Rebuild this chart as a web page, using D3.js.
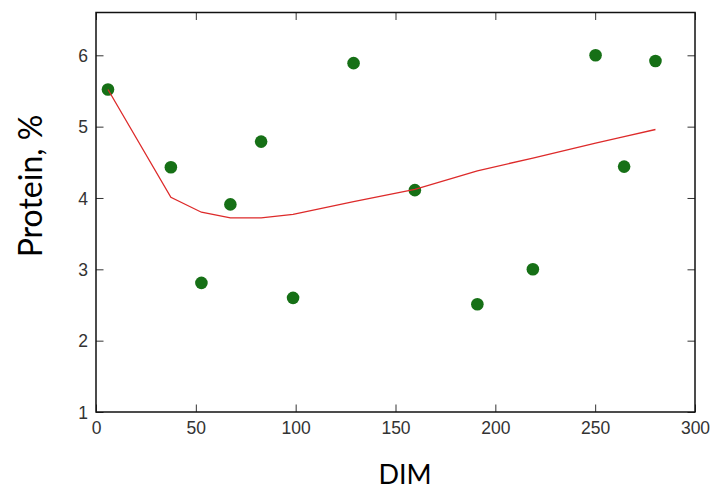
<!DOCTYPE html>
<html>
<head>
<meta charset="utf-8">
<script src="https://cdn.jsdelivr.net/npm/d3@7"></script>
<style>
  html, body { margin: 0; padding: 0; background: #fff; }
</style>
</head>
<body>
<div id="chart"></div>
<script>
// ---- Data: days in milk vs. milk protein, with a smoothed fit ----
const dimValues     = [6, 37.5, 52.8, 67.3, 82.7, 98.7, 129, 159.7, 191, 218.8, 250.2, 264.5, 280.2];
const proteinValues = [5.52, 4.43, 2.81, 3.91, 4.79, 2.60, 5.89, 4.11, 2.51, 3.00, 6.00, 4.44, 5.92];
const fitValues     = [5.52, 4.01, 3.80, 3.72, 3.72, 3.77, 3.95, 4.12, 4.38, 4.56, 4.77, 4.86, 4.96];

const xTicks = [0, 50, 100, 150, 200, 250, 300];
const yTicks = [1, 2, 3, 4, 5, 6];

const W = 714, H = 489;
const margin = { top: 12.5, right: 19, bottom: 77, left: 96 };

const svg = d3.select("#chart").append("svg")
  .attr("width", W).attr("height", H);

const x = d3.scaleLinear().domain([0, 300]).range([margin.left, W - margin.right]);
const y = d3.scaleLinear().domain([1, 6.6]).range([H - margin.bottom, margin.top]);

const tickFont = "'Liberation Sans', Arial, sans-serif";
const tickLen = 7.5;
const fmt = d3.format("d");

// ---- Ticks on all four sides, pointing inward (classic matplotlib look) ----
const axBottom = svg.append("g")
  .attr("transform", `translate(0,${H - margin.bottom})`)
  .call(d3.axisBottom(x).tickValues(xTicks).tickFormat(fmt).tickSizeInner(-tickLen).tickSizeOuter(0).tickPadding(10));
const axTop = svg.append("g")
  .attr("transform", `translate(0,${margin.top})`)
  .call(d3.axisTop(x).tickValues(xTicks).tickSizeInner(-tickLen).tickSizeOuter(0).tickFormat(""));
const axLeft = svg.append("g")
  .attr("transform", `translate(${margin.left},0)`)
  .call(d3.axisLeft(y).tickValues(yTicks).tickFormat(fmt).tickSizeInner(-tickLen).tickSizeOuter(0).tickPadding(8));
const axRight = svg.append("g")
  .attr("transform", `translate(${W - margin.right},0)`)
  .call(d3.axisRight(y).tickValues(yTicks).tickSizeInner(-tickLen).tickSizeOuter(0).tickFormat(""));

[axBottom, axTop, axLeft, axRight].forEach(g => {
  g.select(".domain").remove();
  g.selectAll(".tick line").attr("stroke", "#333").attr("stroke-width", 1);
  g.selectAll(".tick text")
    .attr("font-family", tickFont)
    .attr("font-size", 17.5)
    .attr("fill", "#333");
});
axLeft.selectAll(".tick text").attr("dy", "0.36em");

// frame
svg.append("rect")
  .attr("x", x(0)).attr("y", y(6.6))
  .attr("width", x(300) - x(0)).attr("height", y(1) - y(6.6))
  .attr("fill", "none").attr("stroke", "#111").attr("stroke-width", 1.5);

// ---- Points ----
const pts = dimValues.map((d, i) => ({ dim: d, protein: proteinValues[i], fit: fitValues[i] }));

svg.append("g").selectAll("circle")
  .data(pts)
  .join("circle")
  .attr("cx", d => x(d.dim))
  .attr("cy", d => y(d.protein))
  .attr("r", 6.3)
  .attr("fill", "#167016");

// ---- Smoothed fit line ----
const line = d3.line().x(d => x(d.dim)).y(d => y(d.fit));
svg.append("path")
  .datum(pts)
  .attr("d", line)
  .attr("fill", "none")
  .attr("stroke", "#dd2a2a")
  .attr("stroke-width", 1.3);

// ---- Axis titles ----
const labelFont = "Lato, 'Open Sans', sans-serif";
svg.append("text")
  .attr("x", 405).attr("y", 484)
  .attr("text-anchor", "middle")
  .attr("font-family", labelFont)
  .attr("font-size", 27)
  .attr("fill", "#000")
  .text("DIM");

svg.append("text")
  .attr("transform", "translate(42,186) rotate(-90)")
  .attr("text-anchor", "middle")
  .attr("font-family", labelFont)
  .attr("font-size", 32)
  .attr("fill", "#000")
  .text("Protein, %");
</script>
</body>
</html>
